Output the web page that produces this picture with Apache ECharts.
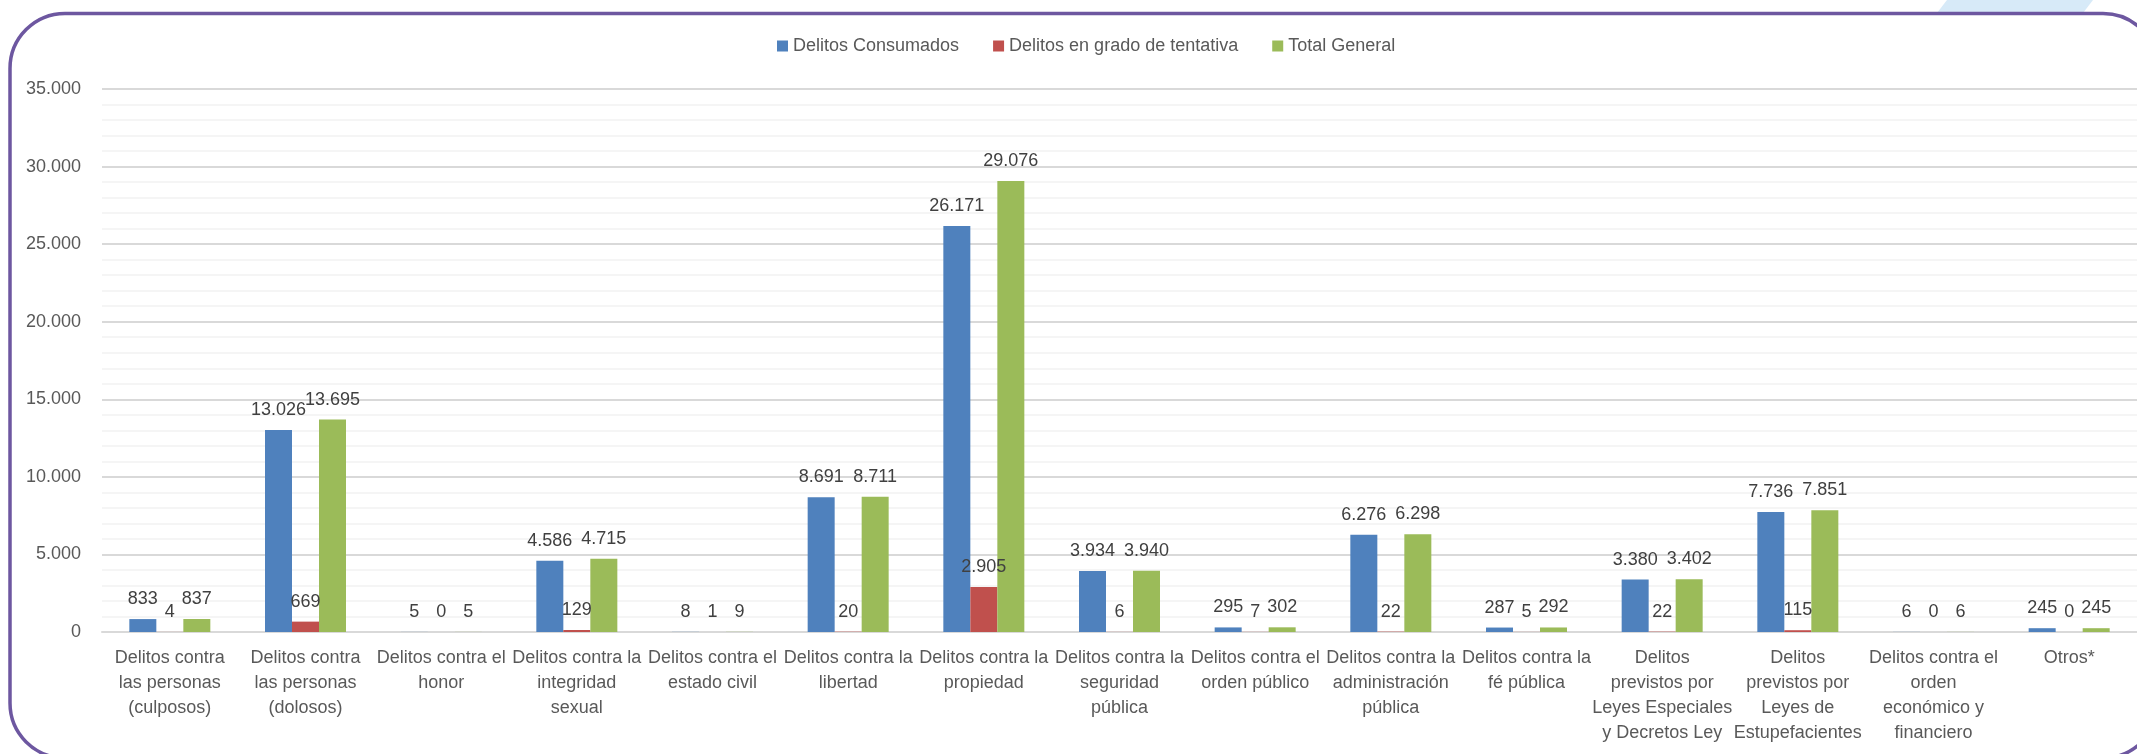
<!DOCTYPE html>
<html>
<head>
<meta charset="utf-8">
<script src="https://cdn.jsdelivr.net/npm/echarts@6/dist/echarts.min.js"></script>
<style>
html,body{margin:0;padding:0;background:#fff;}
#chart{width:2137px;height:754px;}
</style>
</head>
<body>
<div id="chart"></div>
<script>
const categories = [
  "Delitos contra\nlas personas\n(culposos)",
  "Delitos contra\nlas personas\n(dolosos)",
  "Delitos contra el\nhonor",
  "Delitos contra la\nintegridad\nsexual",
  "Delitos contra el\nestado civil",
  "Delitos contra la\nlibertad",
  "Delitos contra la\npropiedad",
  "Delitos contra la\nseguridad\npública",
  "Delitos contra el\norden público",
  "Delitos contra la\nadministración\npública",
  "Delitos contra la\nfé pública",
  "Delitos\nprevistos por\nLeyes Especiales\ny Decretos Ley",
  "Delitos\nprevistos por\nLeyes de\nEstupefacientes",
  "Delitos contra el\norden\neconómico y\nfinanciero",
  "Otros*"
];
const seriesNames = ["Delitos Consumados", "Delitos en grado de tentativa", "Total General"];
const consumados = [833, 13026, 5, 4586, 8, 8691, 26171, 3934, 295, 6276, 287, 3380, 7736, 6, 245];
const tentativa  = [4, 669, 0, 129, 1, 20, 2905, 6, 7, 22, 5, 22, 115, 0, 0];
const totalGeneral = [837, 13695, 5, 4715, 9, 8711, 29076, 3940, 302, 6298, 292, 3402, 7851, 6, 245];
const yTicks = [0, 5000, 10000, 15000, 20000, 25000, 30000, 35000];

const colors = ["#4F81BD", "#C0504D", "#9BBB59"];
const FONT = "'Liberation Sans', Arial, sans-serif";
function fmt(v){ return String(v).replace(/\B(?=(\d{3})+(?!\d))/g, "."); }

const chart = echarts.init(document.getElementById("chart"), null, {renderer: "canvas"});
function mkSeries(name, data, color){
  return {
    name: name,
    type: "bar",
    data: data,
    barWidth: 27,
    barGap: "0%",
    itemStyle: {color: color},
    label: {
      show: true,
      position: "top",
      distance: 10,
      color: "#404040",
      fontSize: 18,
      fontFamily: FONT,
      lineHeight: 20,
      formatter: p => fmt(p.value)
    },
    emphasis: {disabled: true},
    animation: false
  };
}
chart.setOption({
  animation: false,
  backgroundColor: "#ffffff",
  textStyle: {fontFamily: FONT},
  legend: {
    data: seriesNames,
    left: 772,
    top: 32,
    icon: "rect",
    itemWidth: 11,
    itemHeight: 11,
    itemGap: 34,
    textStyle: {color: "#595959", fontSize: 18, fontFamily: FONT}
  },
  grid: {left: 102, right: -8, top: 89, bottom: 122, containLabel: false},
  xAxis: {
    type: "category",
    data: categories,
    axisLine: {lineStyle: {color: "#D9D9D9", width: 2}},
    axisTick: {show: false},
    axisLabel: {
      interval: 0,
      color: "#595959",
      fontSize: 18,
      fontFamily: FONT,
      lineHeight: 25,
      margin: 14
    }
  },
  yAxis: {
    type: "value",
    min: yTicks[0],
    max: yTicks[yTicks.length - 1],
    interval: yTicks[1] - yTicks[0],
    axisLine: {show: false},
    axisTick: {show: false},
    axisLabel: {color: "#595959", fontSize: 18, fontFamily: FONT, margin: 21, formatter: v => fmt(v)},
    splitLine: {lineStyle: {color: "#D9D9D9", width: 2}},
    minorTick: {show: false, splitNumber: 5},
    minorSplitLine: {show: true, lineStyle: {color: "#F2F2F2", width: 1.5}}
  },
  series: [
    mkSeries(seriesNames[0], consumados, colors[0]),
    mkSeries(seriesNames[1], tentativa, colors[1]),
    mkSeries(seriesNames[2], totalGeneral, colors[2])
  ],
  graphic: [
    {
      type: "polygon",
      z: -1,
      silent: true,
      shape: {points: [[1947, 0], [2093, 0], [2083, 13], [1937, 13]]},
      style: {fill: "#D7EAF8"}
    },
    {
      type: "rect",
      z: 100,
      silent: true,
      shape: {x: 10, y: 13.5, width: 2148, height: 744.5, r: 55},
      style: {fill: null, stroke: "#6D57A0", lineWidth: 3.5}
    }
  ]
});
</script>
</body>
</html>
